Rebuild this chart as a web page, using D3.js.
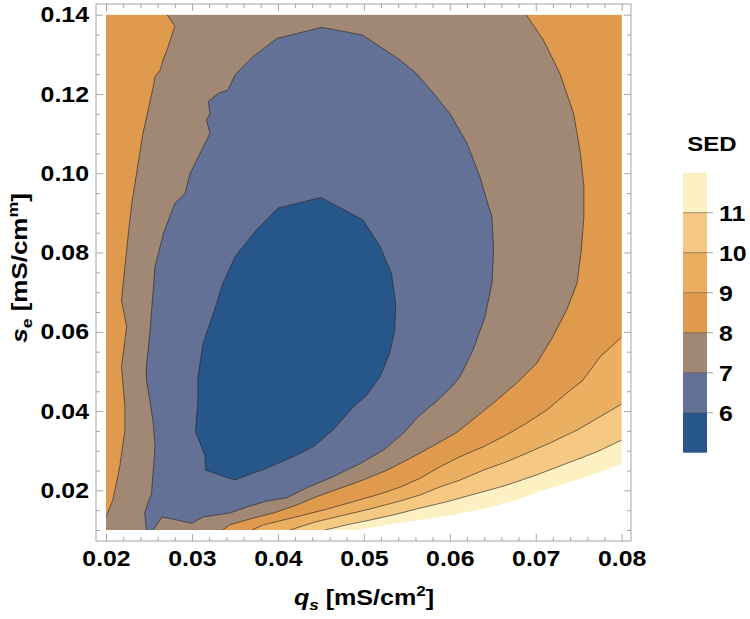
<!DOCTYPE html>
<html><head><meta charset="utf-8">
<script src="https://cdn.jsdelivr.net/npm/d3@7"></script>
<style>body{margin:0;background:#fff}svg{display:block}text{font-family:"Liberation Sans",Arial,sans-serif;font-weight:bold}</style>
</head><body><svg id="chart" width="750" height="619"></svg>
<script>
// ---------- data ----------
const xDomain = [0.02, 0.08];
const yDomain = [0.01, 0.14];
const xTicks = [0.02, 0.03, 0.04, 0.05, 0.06, 0.07, 0.08];
const xTickLabels = ["0.02", "0.03", "0.04", "0.05", "0.06", "0.07", "0.08"];
const yTicks = [0.02, 0.04, 0.06, 0.08, 0.10, 0.12, 0.14];
const yTickLabels = ["0.02", "0.04", "0.06", "0.08", "0.10", "0.12", "0.14"];
const levels = [6, 7, 8, 9, 10, 11];
const bandColors = ["#27568b", "#637197", "#a08875", "#e09a4e", "#ebaf62", "#f5c984", "#fdf0c3"];

// SED = 6 (closed)
const contour6 = [[0.0450,0.0939],[0.0499,0.0882],[0.0519,0.0815],[0.0532,0.0748],[0.0537,0.0672],[0.0536,0.0604],
  [0.0530,0.0546],[0.0519,0.0487],[0.0503,0.0440],[0.0488,0.0411],[0.0464,0.0352],[0.0441,0.0310],[0.0418,0.0285],
  [0.0387,0.0256],[0.0368,0.0241],[0.0350,0.0226],[0.0316,0.0251],[0.0315,0.0289],[0.0304,0.0348],[0.0307,0.0428],
  [0.0307,0.0487],[0.0313,0.0571],[0.0325,0.0647],[0.0336,0.0722],[0.0350,0.0789],[0.0375,0.0857],[0.0400,0.0912]];
// SED = 7 (from bottom edge round to bottom edge)
const contour7 = [[0.0247,0.0100],[0.0245,0.0143],[0.0253,0.0193],[0.0257,0.0310],[0.0255,0.0369],[0.0251,0.0428],
  [0.0247,0.0478],[0.0247,0.0512],[0.0251,0.0596],[0.0257,0.0764],[0.0267,0.0849],[0.0280,0.0924],[0.0292,0.0949],
  [0.0298,0.1000],[0.0321,0.1101],[0.0317,0.1134],[0.0321,0.1151],[0.0319,0.1181],[0.0331,0.1202],[0.0342,0.1210],
  [0.0350,0.1248],[0.0371,0.1294],[0.0399,0.1340],[0.0451,0.1368],[0.0498,0.1349],[0.0519,0.1319],[0.0542,0.1286],
  [0.0561,0.1252],[0.0581,0.1202],[0.0600,0.1151],[0.0620,0.1076],[0.0635,0.0991],[0.0643,0.0932],[0.0649,0.0890],
  [0.0651,0.0806],[0.0649,0.0722],[0.0641,0.0638],[0.0627,0.0554],[0.0612,0.0487],[0.0602,0.0461],[0.0584,0.0423],
  [0.0565,0.0390],[0.0546,0.0344],[0.0523,0.0302],[0.0496,0.0268],[0.0464,0.0234],[0.0434,0.0207],[0.0410,0.0181],
  [0.0387,0.0173],[0.0364,0.0158],[0.0344,0.0143],[0.0313,0.0133],[0.0300,0.0117],[0.0265,0.0133],[0.0255,0.0100]];
// SED = 8, left branch (top edge -> left edge) and right branch (top edge -> bottom edge)
const contour8Left = [[0.0271,0.1400],[0.0280,0.1371],[0.0271,0.1311],[0.0267,0.1290],[0.0263,0.1260],[0.0257,0.1244],
  [0.0255,0.1218],[0.0243,0.1101],[0.0230,0.0924],[0.0226,0.0848],[0.0218,0.0680],[0.0224,0.0613],[0.0222,0.0579],
  [0.0218,0.0512],[0.0220,0.0461],[0.0222,0.0411],[0.0222,0.0352],[0.0216,0.0260],[0.0208,0.0176],[0.0200,0.0133]];
const contour8Right = [[0.0689,0.1400],[0.0709,0.1336],[0.0728,0.1252],[0.0744,0.1151],[0.0752,0.1050],[0.0756,0.0966],
  [0.0756,0.0890],[0.0753,0.0806],[0.0748,0.0722],[0.0736,0.0655],[0.0720,0.0588],[0.0701,0.0520],[0.0679,0.0473],
  [0.0655,0.0428],[0.0631,0.0386],[0.0608,0.0346],[0.0582,0.0314],[0.0554,0.0281],[0.0527,0.0251],[0.0499,0.0226],
  [0.0472,0.0205],[0.0445,0.0184],[0.0422,0.0163],[0.0395,0.0143],[0.0368,0.0128],[0.0344,0.0113],[0.0336,0.0100]];
// SED = 9, 10, 11 (right edge -> bottom edge)
const contour9 = [[0.0800,0.0587],[0.0775,0.0537],[0.0755,0.0478],[0.0736,0.0445],[0.0713,0.0403],[0.0689,0.0369],
  [0.0666,0.0340],[0.0639,0.0310],[0.0612,0.0285],[0.0589,0.0260],[0.0565,0.0230],[0.0542,0.0208],[0.0519,0.0191],
  [0.0487,0.0171],[0.0461,0.0155],[0.0434,0.0140],[0.0406,0.0125],[0.0383,0.0113],[0.0370,0.0100]];
const contour10 = [[0.0800,0.0418],[0.0775,0.0386],[0.0748,0.0352],[0.0720,0.0323],[0.0693,0.0297],[0.0666,0.0272],
  [0.0639,0.0251],[0.0612,0.0226],[0.0589,0.0209],[0.0565,0.0188],[0.0542,0.0173],[0.0507,0.0153],[0.0472,0.0135],
  [0.0443,0.0120],[0.0414,0.0100]];
const contour11 = [[0.0800,0.0327],[0.0771,0.0297],[0.0736,0.0268],[0.0701,0.0239],[0.0666,0.0213],[0.0631,0.0192],
  [0.0596,0.0171],[0.0565,0.0155],[0.0538,0.0140],[0.0507,0.0125],[0.0480,0.0113],[0.0455,0.0100]];
// edge of the computed region (white below)
const dataEdge = [[0.0800,0.0268],[0.0771,0.0243],[0.0736,0.0218],[0.0709,0.0201],[0.0678,0.0176],[0.0643,0.0155],
  [0.0604,0.0138],[0.0565,0.0125],[0.0538,0.0117],[0.0507,0.0105],[0.0493,0.0100]];

// ---------- drawing ----------
const svg = d3.select("#chart");
const frame = {left: 96, top: 4, right: 631, bottom: 541};
const x = d3.scaleLinear().domain(xDomain).range([106, 621.7]);
const y = d3.scaleLinear().domain(yDomain).range([530, 14.7]);
const line = d3.line().x(d => x(d[0])).y(d => y(d[1]));
const TL = [xDomain[0], yDomain[1]], TR = [xDomain[1], yDomain[1]], BL = [xDomain[0], yDomain[0]];
const STRETCH = 1.13;
function stretch(sel, k) {
  sel.each(function () {
    const L = this.getComputedTextLength();
    d3.select(this).attr("textLength", L * k).attr("lengthAdjust", "spacingAndGlyphs");
  });
}

svg.append("clipPath").attr("id", "plotclip").append("rect")
  .attr("x", x(xDomain[0])).attr("y", y(yDomain[1]))
  .attr("width", x(xDomain[1]) - x(xDomain[0])).attr("height", y(yDomain[0]) - y(yDomain[1]));

const plot = svg.append("g").attr("clip-path", "url(#plotclip)");
const regions = [
  {pts: [TL, TR, ...dataEdge, BL], c: bandColors[6]},
  {pts: [TL, TR, ...contour11, BL], c: bandColors[5]},
  {pts: [TL, TR, ...contour10, BL], c: bandColors[4]},
  {pts: [TL, TR, ...contour9, BL], c: bandColors[3]},
  {pts: [...contour8Left.slice().reverse(), ...contour8Right, BL], c: bandColors[2]},
  {pts: contour7, c: bandColors[1]},
  {pts: contour6, c: bandColors[0]}
];
plot.selectAll("path.region").data(regions).join("path").attr("class", "region")
  .attr("d", d => line(d.pts) + "Z").attr("fill", d => d.c).attr("stroke", "none");

const lines = [contour6.concat([contour6[0]]), contour7, contour8Left, contour8Right, contour9, contour10, contour11];
plot.selectAll("path.cline").data(lines).join("path").attr("class", "cline")
  .attr("d", d => line(d)).attr("fill", "none")
  .attr("stroke", "rgba(40,35,35,0.7)").attr("stroke-width", 0.9).attr("stroke-linejoin", "round");

// frame
svg.append("rect").attr("x", frame.left).attr("y", frame.top)
  .attr("width", frame.right - frame.left).attr("height", frame.bottom - frame.top)
  .attr("fill", "none").attr("stroke", "#a6a6a6").attr("stroke-width", 1);

const tickColor = "#a6a6a6";
const xMinor = d3.range(0.02, 0.0801, 0.002).filter(v => !xTicks.some(t => Math.abs(t - v) < 1e-6));
const yMinor = d3.range(0.01, 0.1401, 0.005).filter(v => !yTicks.some(t => Math.abs(t - v) < 1e-6));
const fmtX = d => xTickLabels[xTicks.findIndex(t => Math.abs(t - d) < 1e-9)];
const fmtY = d => yTickLabels[yTicks.findIndex(t => Math.abs(t - d) < 1e-9)];

function styleAxis(g) {
  g.select(".domain").remove();
  g.selectAll("line").attr("stroke", tickColor);
  g.selectAll("text").attr("fill", "#000").attr("font-size", 22).attr("font-weight", "bold")
    .attr("font-family", '"Liberation Sans", Arial, sans-serif');
}
// bottom
svg.append("g").attr("transform", `translate(0,${frame.bottom})`)
  .call(d3.axisBottom(x).tickValues(xTicks).tickFormat(fmtX).tickSizeInner(-7).tickSizeOuter(0).tickPadding(9)).call(styleAxis)
  .selectAll("text").call(stretch, STRETCH);
svg.append("g").attr("transform", `translate(0,${frame.bottom})`)
  .call(d3.axisBottom(x).tickValues(xMinor).tickFormat("").tickSizeInner(-4).tickSizeOuter(0)).call(styleAxis);
// top
svg.append("g").attr("transform", `translate(0,${frame.top})`)
  .call(d3.axisTop(x).tickValues(xTicks).tickFormat("").tickSizeInner(-7).tickSizeOuter(0)).call(styleAxis);
svg.append("g").attr("transform", `translate(0,${frame.top})`)
  .call(d3.axisTop(x).tickValues(xMinor).tickFormat("").tickSizeInner(-4).tickSizeOuter(0)).call(styleAxis);
// left
svg.append("g").attr("transform", `translate(${frame.left},0)`)
  .call(d3.axisLeft(y).tickValues(yTicks).tickFormat(fmtY).tickSizeInner(-7).tickSizeOuter(0).tickPadding(7)).call(styleAxis)
  .selectAll("text").call(stretch, STRETCH);
svg.append("g").attr("transform", `translate(${frame.left},0)`)
  .call(d3.axisLeft(y).tickValues(yMinor).tickFormat("").tickSizeInner(-4).tickSizeOuter(0)).call(styleAxis);
// right
svg.append("g").attr("transform", `translate(${frame.right},0)`)
  .call(d3.axisRight(y).tickValues(yTicks).tickFormat("").tickSizeInner(-7).tickSizeOuter(0)).call(styleAxis);
svg.append("g").attr("transform", `translate(${frame.right},0)`)
  .call(d3.axisRight(y).tickValues(yMinor).tickFormat("").tickSizeInner(-4).tickSizeOuter(0)).call(styleAxis);

// axis titles
const xt = svg.append("g").attr("transform", "translate(364,605) scale(1.14,1)")
  .append("text").attr("text-anchor", "middle").attr("font-size", 22);
xt.append("tspan").attr("font-style", "italic").text("q");
xt.append("tspan").attr("font-style", "italic").attr("font-size", 15).attr("dy", 5).text("s");
xt.append("tspan").attr("dy", -5).text(" [mS/cm");
xt.append("tspan").attr("font-size", 15).attr("dy", -9).text("2");
xt.append("tspan").attr("dy", 9).text("]");

const yt = svg.append("g").attr("transform", "translate(27,268) rotate(-90) scale(1.18,1)")
  .append("text").attr("text-anchor", "middle").attr("font-size", 22);
yt.append("tspan").attr("font-style", "italic").text("s");
yt.append("tspan").attr("font-size", 15).attr("dy", 5).text("e");
yt.append("tspan").attr("dy", -5).text(" [mS/cm");
yt.append("tspan").attr("font-size", 15).attr("dy", -9).text("m");
yt.append("tspan").attr("dy", 9).text("]");

// legend
const ly = d3.scaleLinear().domain([5, 12]).range([452.7, 172.7]);
const lg = svg.append("g");
lg.append("g").attr("transform", "translate(712,151) scale(1.2,1)")
  .append("text").attr("text-anchor", "middle").attr("font-size", 20).text("SED");
lg.selectAll("rect.band").data(bandColors).join("rect").attr("class", "band")
  .attr("x", 683).attr("width", 24)
  .attr("y", (d, i) => ly(6 + i)).attr("height", (d, i) => ly(5 + i) - ly(6 + i))
  .attr("fill", d => d);
lg.selectAll("line.sep").data(levels).join("line").attr("class", "sep")
  .attr("x1", 683).attr("x2", 707).attr("y1", d => ly(d)).attr("y2", d => ly(d))
  .attr("stroke", "rgba(60,40,30,0.6)").attr("stroke-width", 0.8);
lg.selectAll("line.tk").data(levels).join("line").attr("class", "tk")
  .attr("x1", 707).attr("x2", 713).attr("y1", d => ly(d)).attr("y2", d => ly(d))
  .attr("stroke", tickColor).attr("stroke-width", 1);
lg.selectAll("text.lbl").data(levels).join("text").attr("class", "lbl")
  .attr("x", 719).attr("y", d => ly(d)).attr("dy", "0.36em").attr("font-size", 22).text(d => d)
  .call(stretch, STRETCH);
</script></body></html>
